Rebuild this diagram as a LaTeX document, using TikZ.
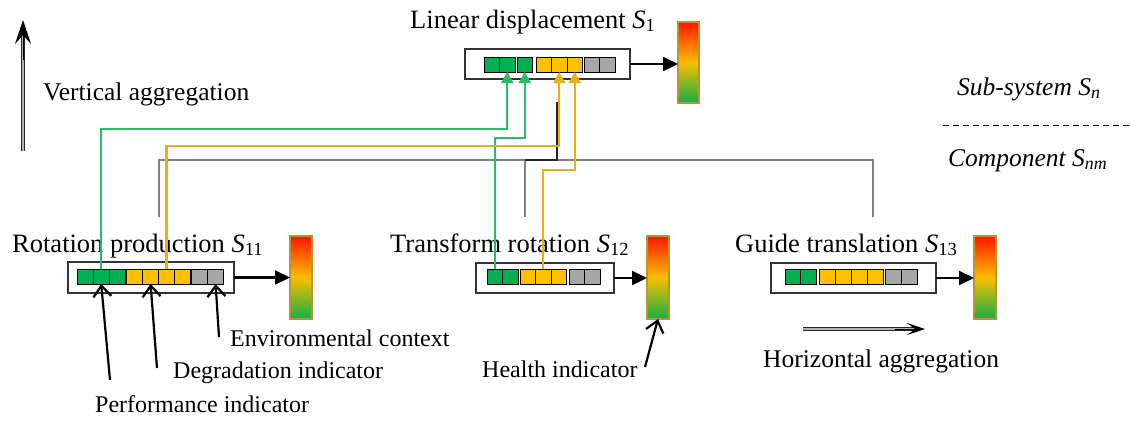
\documentclass[tikz,border=0pt]{standalone}
\usepackage{fontspec}
\setmainfont{Liberation Serif}
\usetikzlibrary{arrows.meta}
\definecolor{cg}{RGB}{0,176,80}
\definecolor{cy}{RGB}{255,192,0}
\definecolor{cgr}{RGB}{166,166,166}
\definecolor{lg}{RGB}{40,188,100}
\definecolor{ly}{RGB}{232,176,20}
\definecolor{gb}{RGB}{190,145,50}
\definecolor{gred}{RGB}{255,20,0}
\definecolor{gmid}{RGB}{250,190,0}
\definecolor{ggreen}{RGB}{20,175,70}
\newcommand\fsz[1]{\fontsize{#1}{#1}\selectfont}
\begin{document}
\begin{tikzpicture}[x=1pt,y=-1pt,
  cell/.style={draw=black, line width=1pt, minimum height=15pt, inner sep=0pt, outer sep=0pt},
  ibox/.style={draw=black!80, line width=1.2pt, fill=white, inner sep=0pt, outer sep=0pt},
  gauge/.style={draw=gb, line width=1.8pt, top color=gred, bottom color=ggreen, middle color=gmid, minimum width=21pt, minimum height=82pt, inner sep=0pt, outer sep=0pt},
  title/.style={anchor=base west, inner sep=0pt, font=\fsz{26.5}},
  lab/.style={anchor=base west, inner sep=0pt, font=\fsz{24}},
  side/.style={anchor=base west, inner sep=0pt, font=\fsz{25.5}\itshape},
  agg/.style={anchor=base west, inner sep=0pt, font=\fsz{25.5}},
  gline/.style={draw=lg, line width=2.2pt, -{Triangle[length=11pt,width=12pt]}},
  yline/.style={draw=ly, line width=2.2pt, -{Triangle[length=11pt,width=12pt]}},
  tree/.style={draw=black!50, line width=1.6pt},
  ptr/.style={draw=black, line width=2.2pt, -{Straight Barb[length=11pt,width=18pt]}},
  barr/.style={draw=black, line width=2.2pt, -{Triangle[length=15pt,width=14pt]}},
  dbl/.style={draw=black!85, line width=1.5pt, double=black!30, double distance=1.8pt},
]
\useasboundingbox (0,0) rectangle (1131,421);

% ---------- texts ----------
\node[title] (t1) at (410,28) {Linear displacement \textit{S}\textsubscript{1}};
\node[title] (t11) at (12,252) {Rotation production \textit{S}\textsubscript{11}};
\node[title] (t12) at (390,252) {Transform rotation \textit{S}\textsubscript{12}};
\node[title] (t13) at (735,252) {Guide translation \textit{S}\textsubscript{13}};
\node[agg] (vtxt) at (43,100) {Vertical aggregation};
\node[agg] (htxt) at (763,367) {Horizontal aggregation};
\node[side] (sub) at (957,95) {Sub-system S\textsubscript{n}};
\node[side] (comp) at (948,166) {Component S\textsubscript{nm}};
\node[lab] (lenv) at (230,346) {Environmental context};
\node[lab] (ldeg) at (173,378) {Degradation indicator};
\node[lab] (lperf) at (95,412) {Performance indicator};
\node[lab] (lhealth) at (482,377) {Health indicator};

% ---------- dashed separator ----------
\coordinate (ds1) at (943,125);
\coordinate (ds2) at (1131,125);
\draw[black, line width=0.9pt, dash pattern=on 6pt off 4pt] (ds1) -- (ds2);

% ---------- aggregation arrows ----------
\coordinate (va1) at (23,151);
\coordinate (va2) at (23,20);
\draw[dbl] (va1) -- ([yshift=-16pt]va2);
\draw[black, line width=1pt, -{Stealth[length=24pt,width=16pt,inset=9pt]}] ([yshift=-40pt]va2) -- (va2);
\coordinate (ha1) at (803,329);
\coordinate (ha2) at (925,329);
\draw[dbl] (ha1) -- ([xshift=-10pt]ha2);
\draw[black, line width=1pt, -{Stealth[length=18pt,width=12pt,inset=8pt]}] ([xshift=-30pt]ha2) -- (ha2);

% ---------- tree ----------
\coordinate (bl) at (159,160);
\coordinate (br) at (873,160);
\coordinate (bm) at (525,160);
\coordinate (stemtop) at (557,102);
\coordinate (d11) at (159,217);
\coordinate (d12) at (525,217);
\coordinate (d13) at (873,217);
\draw[tree] (d11) -- (bl) -- (br) -- (d13);
\draw[tree] (bm) -- (d12);
\draw[draw=black!85, line width=1.6pt] (stemtop) |- (bm);

% ---------- boxes ----------
\node[ibox, minimum width=165pt, minimum height=30pt] (B1) at (547.5,64) {};
\node[ibox, minimum width=166pt, minimum height=31pt] (B11) at (151,277.5) {};
\node[ibox, minimum width=138pt, minimum height=30pt] (B12) at (545,278) {};
\node[ibox, minimum width=165pt, minimum height=30pt] (B13) at (853.5,278) {};

% top cells
\foreach \n/\x/\c in {g1/491.75/cg, g2/507.25/cg, g3/524.75/cg, y1/543.75/cy, y2/559.25/cy, y3/574.75/cy, r1/591.75/cgr, r2/607.25/cgr}
  \node[cell, fill=\c, minimum width=15.5pt] (T\n) at (\x,64.5) {};
% S11 cells
\foreach \n/\x/\c in {g1/85.3/cg, g2/101.2/cg, g3/117.1/cg, y1/134.8/cy, y2/150.6/cy, y3/166.4/cy, y4/182.2/cy, r1/199.8/cgr, r2/215.6/cgr}
  \node[cell, fill=\c, minimum width=15.8pt] (L\n) at (\x,276.5) {};
% S12 cells
\foreach \n/\x/\c in {g1/494.75/cg, g2/510.25/cg, y1/527.75/cy, y2/543.25/cy, y3/558.75/cy, r1/577/cgr, r2/592.5/cgr}
  \node[cell, fill=\c, minimum width=15.5pt] (M\n) at (\x,276.5) {};
% S13 cells
\foreach \n/\x/\c in {g1/793.5/cg, g2/808.5/cg, y1/827.5/cy, y2/843.5/cy, y3/859.5/cy, y4/875.5/cy, r1/893.5/cgr, r2/909.3/cgr}
  \node[cell, fill=\c, minimum width=15.5pt] (R\n) at (\x,276.5) {};

% ---------- gauges ----------
\node[gauge, minimum height=81pt] (G1) at (688.5,62.5) {};
\node[gauge, minimum width=22pt, minimum height=83pt] (G11) at (301,277.5) {};
\node[gauge, minimum width=22pt, minimum height=83pt] (G12) at (658,277.5) {};
\node[gauge, minimum width=22pt, minimum height=83pt] (G13) at (985,277.5) {};

\draw[barr] (B1.east) -- (B1.east -| G1.west);
\draw[barr] (B11.east) -- (B11.east -| G11.west);
\draw[barr] (B12.east) -- (B12.east -| G12.west);
\draw[barr] (B13.east) -- (B13.east -| G13.west);

% ---------- coloured aggregation links ----------
\coordinate (hg1) at (300,129);
\coordinate (hg2) at (510,138);
\coordinate (hy1) at (300,146);
\coordinate (hy2) at (560,170);
\draw[gline] (Lg2.north) |- (hg1) -| (Tg2.south);
\draw[gline] (Mg1.north) |- (hg2) -| (Tg3.south);
\draw[yline] (Ly3.north) |- (hy1) -| (Ty2.south);
\draw[yline] (My2.north) |- (hy2) -| (Ty3.south);

% ---------- pointer arrows ----------
\coordinate (pperf) at (110,380);
\coordinate (pdeg) at (157,368);
\coordinate (penv) at (219,337);
\coordinate (phealth) at (645,367);
\draw[ptr] (pperf) -- (Lg2.south);
\draw[ptr] (pdeg) -- (Ly2.south);
\draw[ptr] (penv) -- (Lr2.south);
\draw[ptr] (phealth) -- (G12.south);
\end{tikzpicture}
\end{document}
